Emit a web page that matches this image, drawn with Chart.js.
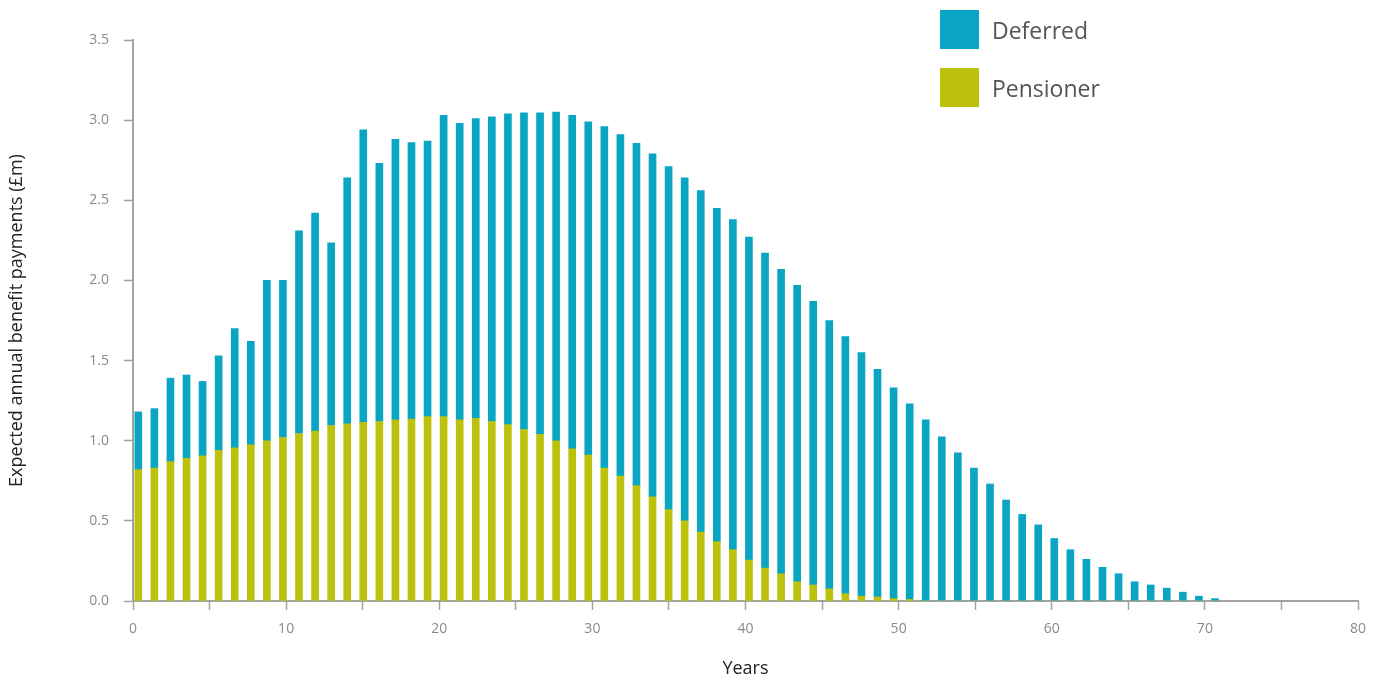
<!DOCTYPE html>
<html>
<head>
<meta charset="utf-8">
<script src="https://cdn.jsdelivr.net/npm/chart.js@4.4.1/dist/chart.umd.min.js"></script>
<style>
  body { margin: 0; background: #fff; }
  #wrap { position: relative; width: 1386px; height: 682px; }
  #legend { position: absolute; left: 940px; top: 10px; font-family: "Open Sans", sans-serif; font-size: 23px; color: #555; }
  .item { display: flex; align-items: center; height: 39px; margin-bottom: 19px; }
  .swatch { width: 39px; height: 39px; margin-right: 13px; }
</style>
</head>
<body>
<div id="wrap">
  <canvas id="payments" width="1386" height="682"></canvas>
  <div id="legend"></div>
</div>
<script>
// one bar per year of projection
let years = [0, 1, 2, 3, 4, 5, 6, 7, 8, 9, 10, 11, 12, 13, 14, 15, 16, 17, 18, 19,
  20, 21, 22, 23, 24, 25, 26, 27, 28, 29, 30, 31, 32, 33, 34, 35, 36, 37, 38, 39,
  40, 41, 42, 43, 44, 45, 46, 47, 48, 49, 50, 51, 52, 53, 54, 55, 56, 57, 58, 59,
  60, 61, 62, 63, 64, 65, 66, 67];

// £m
let pensioner = [0.82, 0.83, 0.87, 0.89, 0.905, 0.94, 0.955, 0.975, 1.00, 1.02,
  1.045, 1.06, 1.095, 1.105, 1.115, 1.12, 1.13, 1.135, 1.15, 1.15,
  1.13, 1.14, 1.12, 1.10, 1.07, 1.04, 1.00, 0.95, 0.91, 0.83,
  0.78, 0.72, 0.65, 0.57, 0.50, 0.43, 0.37, 0.32, 0.255, 0.205,
  0.17, 0.12, 0.10, 0.075, 0.045, 0.03, 0.025, 0.015, 0.01, 0,
  0, 0, 0, 0, 0, 0, 0, 0, 0, 0,
  0, 0, 0, 0, 0, 0, 0, 0];

let deferred = [0.36, 0.37, 0.52, 0.52, 0.465, 0.59, 0.745, 0.645, 1.00, 0.98,
  1.265, 1.36, 1.14, 1.535, 1.825, 1.61, 1.75, 1.725, 1.72, 1.88,
  1.85, 1.87, 1.90, 1.94, 1.975, 2.005, 2.05, 2.08, 2.08, 2.13,
  2.13, 2.135, 2.14, 2.14, 2.14, 2.13, 2.08, 2.06, 2.015, 1.965,
  1.90, 1.85, 1.77, 1.675, 1.605, 1.52, 1.42, 1.315, 1.22, 1.13,
  1.025, 0.925, 0.83, 0.73, 0.63, 0.54, 0.475, 0.39, 0.32, 0.26,
  0.21, 0.17, 0.12, 0.10, 0.08, 0.055, 0.03, 0.015];

let xTicks = [0, 10, 20, 30, 40, 50, 60, 70, 80];

let deferredColour = '#0aa5c3';
let pensionerColour = '#bcc20c';

function points(values) {
  return years.map((yr, i) => ({ x: yr, y: values[i] }));
}

let ctx = document.getElementById('payments').getContext('2d');

let paymentsChart = new Chart(ctx, {
  type: 'bar',
  data: {
    datasets: [
      {
        label: 'Pensioner',
        data: points(pensioner),
        backgroundColor: pensionerColour,
        xAxisID: 'xb',
        barThickness: 7
      },
      {
        label: 'Deferred',
        data: points(deferred),
        backgroundColor: deferredColour,
        xAxisID: 'xb',
        barThickness: 7
      }
    ]
  },
  options: {
    responsive: false,
    animation: false,
    devicePixelRatio: 1,
    layout: { padding: { top: 40, right: 28, left: 0, bottom: 0 } },
    plugins: {
      legend: { display: false },
      tooltip: { enabled: false }
    },
    scales: {
      xb: {
        type: 'linear',
        display: false,
        stacked: true,
        offset: false,
        min: -0.33,
        max: 75.9
      },
      x: {
        type: 'linear',
        position: 'bottom',
        offset: false,
        min: 0,
        max: 80,
        afterFit: (scale) => { scale.height = 81; },
        border: { display: true, color: '#a3a3a3', width: 2 },
        grid: { offset: false, drawOnChartArea: false, drawTicks: true, tickLength: 9, tickColor: '#a3a3a3', tickWidth: 1.5 },
        ticks: {
          stepSize: 5,
          autoSkip: false,
          maxRotation: 0,
          padding: 11,
          color: '#8a8a8a',
          font: { family: 'Open Sans', size: 14 },
          callback: (v) => xTicks.includes(v) ? String(v) : ''
        },
        title: {
          display: true,
          text: 'Years',
          color: '#222',
          font: { family: 'Open Sans', size: 18 },
          padding: { top: 0, bottom: 2 }
        }
      },
      y: {
        stacked: true,
        min: 0,
        max: 3.5,
        afterFit: (scale) => { scale.width = 133; },
        border: { display: true, color: '#a3a3a3', width: 2 },
        grid: { drawOnChartArea: false, drawTicks: true, tickLength: 9, tickColor: '#a3a3a3', tickWidth: 1.5 },
        ticks: {
          stepSize: 0.5,
          padding: 15,
          color: '#8a8a8a',
          font: { family: 'Open Sans', size: 14 },
          callback: (v) => v.toFixed(1)
        },
        title: {
          display: true,
          text: 'Expected annual benefit payments (£m)',
          color: '#222',
          font: { family: 'Open Sans', size: 18 },
          padding: { top: 6, bottom: 0 }
        }
      }
    }
  }
});

// legend top right, deferred first as in the original
let legend = document.getElementById('legend');
[paymentsChart.data.datasets[1], paymentsChart.data.datasets[0]].forEach((ds) => {
  let item = document.createElement('div');
  item.className = 'item';
  let sw = document.createElement('div');
  sw.className = 'swatch';
  sw.style.background = ds.backgroundColor;
  let txt = document.createElement('span');
  txt.textContent = ds.label;
  item.appendChild(sw);
  item.appendChild(txt);
  legend.appendChild(item);
});
</script>
</body>
</html>
